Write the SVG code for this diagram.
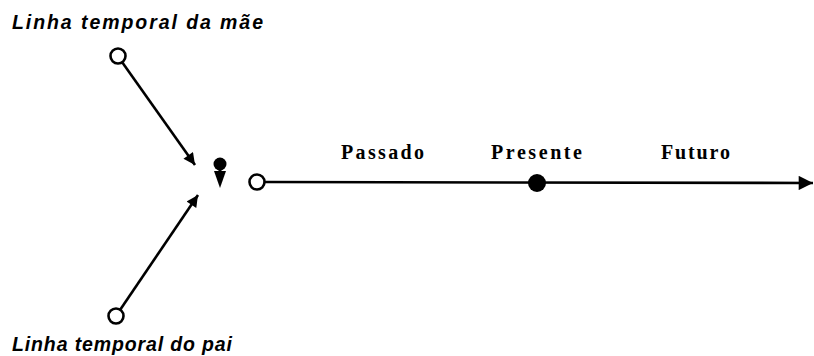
<svg xmlns="http://www.w3.org/2000/svg" width="814" height="356" viewBox="0 0 814 356">
  <style>
    .label-it { font-family: "Liberation Sans", Arial, sans-serif; font-style: italic; font-weight: bold; font-size: 19.5px; fill: #000; }
    .label-tl { font-family: "Liberation Serif", "Times New Roman", serif; font-weight: bold; font-size: 20px; fill: #000; }
    .line { stroke: #000; stroke-width: 2.6; fill: none; }
    .open { fill: #fff; stroke: #000; stroke-width: 2.6; }
  </style>
  <defs>
    <marker id="arrow" viewBox="0 0 10 10" refX="10" refY="5" markerWidth="7" markerHeight="4.5" markerUnits="strokeWidth" orient="auto">
      <path d="M0,0 L10,5 L0,10 Z" fill="#000"/>
    </marker>
    <marker id="arrow-wide" viewBox="0 0 10 10" refX="10" refY="5" markerWidth="6.5" markerHeight="5.5" markerUnits="strokeWidth" orient="auto">
      <path d="M0,0 L10,5 L0,10 Z" fill="#000"/>
    </marker>
  </defs>

  <rect width="814" height="356" fill="#fff"/>

  <g id="connectors">
    <line class="line" x1="122" y1="62" x2="195" y2="165" marker-end="url(#arrow)"/>
    <line class="line" x1="120" y1="310" x2="198" y2="195" marker-end="url(#arrow)"/>
    <line class="line" x1="265" y1="182" x2="813" y2="183" marker-end="url(#arrow-wide)"/>
  </g>

  <g id="mother">
    <circle class="open" cx="118" cy="56" r="7.5"/>
    <text class="label-it" x="12" y="29" textLength="251" lengthAdjust="spacing">Linha temporal da mãe</text>
  </g>

  <g id="father">
    <circle class="open" cx="116" cy="316" r="7.5"/>
    <text class="label-it" x="12" y="351" textLength="220" lengthAdjust="spacing">Linha temporal do pai</text>
  </g>

  <!-- conception: dot with a short downward arrow -->
  <g id="conception">
    <circle cx="220" cy="164" r="6.5" fill="#000"/>
    <path d="M214,171 L226,171 L220,188 Z" fill="#000"/>
    <line x1="220" y1="166" x2="220" y2="175" stroke="#000" stroke-width="3"/>
  </g>

  <g id="birth">
    <circle class="open" cx="257" cy="182" r="7.5"/>
  </g>

  <g id="past">
    <text class="label-tl" x="341" y="159" textLength="83" lengthAdjust="spacing">Passado</text>
  </g>

  <g id="present">
    <circle cx="537" cy="183" r="9" fill="#000"/>
    <text class="label-tl" x="491" y="159" textLength="91" lengthAdjust="spacing">Presente</text>
  </g>

  <g id="future">
    <text class="label-tl" x="661" y="159" textLength="69" lengthAdjust="spacing">Futuro</text>
  </g>
</svg>
